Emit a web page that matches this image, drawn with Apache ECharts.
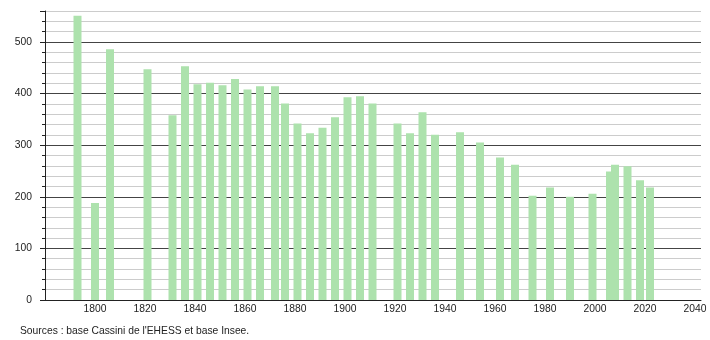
<!DOCTYPE html>
<html><head><meta charset="utf-8">
<script src="https://cdn.jsdelivr.net/npm/echarts@6/dist/echarts.min.js"></script>
<style>html,body{margin:0;padding:0;background:#fff}#c{width:710px;height:340px}</style>
</head><body><div id="c"></div>
<script>
var years = [1793,1800,1806,1821,1831,1836,1841,1846,1851,1856,1861,1866,1872,1876,1881,1886,1891,1896,1901,1906,1911,1921,1926,1931,1936,1946,1954,1962,1968,1975,1982,1990,1999,2006,2008,2013,2018,2022];
var population = [551,188,486,447,358,453,418,421,416,428,408,414,414,381,342,323,334,354,393,395,381,342,323,364,320,325,305,276,262,202,218,200,206,249,262,259,232,218];
var xTickLabels = [1800,1820,1840,1860,1880,1900,1920,1940,1960,1980,2000,2020,2040];
var yTickLabels = [0,100,200,300,400,500];
var sourceText = "Sources : base Cassini de l'EHESS et base Insee.";

var chart = echarts.init(document.getElementById('c'), null, {renderer:'canvas'});
var font = 'Liberation Sans, Arial, sans-serif';
chart.setOption({
  animation:false,
  grid:{left:45,right:9,top:11,bottom:40},
  xAxis:{type:'value',min:1780,max:2042.4,interval:20,
    axisLine:{show:true,lineStyle:{color:'#222',width:1}},
    axisTick:{show:false},splitLine:{show:false},
    axisLabel:{margin:4,fontSize:10.3,fontFamily:font,color:'#222',showMinLabel:false,showMaxLabel:false,
      formatter:function(v){return xTickLabels.indexOf(Math.round(v))>=0 && Math.abs(v-Math.round(v))<1e-6 ? String(Math.round(v)) : '';}}
  },
  yAxis:[{type:'value',min:0,max:560,interval:20,position:'left',
    axisLine:{show:true,lineStyle:{color:'#222',width:1}},
    axisTick:{show:true,length:3,lineStyle:{color:'#222'}},
    axisLabel:{margin:13,fontSize:10.3,fontFamily:font,color:'#222',
      formatter:function(v){return yTickLabels.indexOf(v)>=0 ? String(v) : '';}},
    splitLine:{show:true,lineStyle:{color:['#444444','#cccccc','#cccccc','#cccccc','#cccccc'],width:1}}
  },{type:'value',min:0,max:560,interval:100,position:'left',
    axisLine:{show:false},axisLabel:{show:false},splitLine:{show:false},
    axisTick:{show:true,length:5,lineStyle:{color:'#222'}}
  }],
  series:[{type:'bar',barWidth:8,itemStyle:{color:'#ade2ad'},
    data:years.map(function(y,i){return [y,population[i]];})}],
  graphic:[{type:'text',left:20,top:326,style:{text:sourceText,fontSize:10.3,fontFamily:font,fill:'#222'}}]
});
</script></body></html>
